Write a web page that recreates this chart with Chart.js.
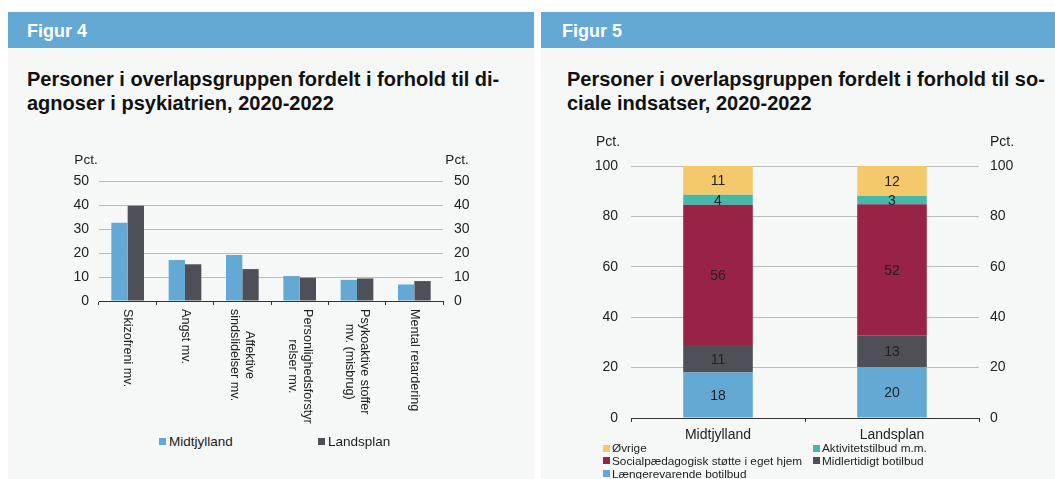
<!DOCTYPE html>
<html>
<head>
<meta charset="utf-8">
<script src="https://cdn.jsdelivr.net/npm/chart.js@4.4.0/dist/chart.umd.min.js"></script>
<style>
html,body{margin:0;padding:0;background:#fff;}
body{width:1055px;height:479px;position:relative;overflow:hidden;font-family:"Liberation Sans",Arial,Helvetica,sans-serif;color:#1a1a1a;}
.panel{position:absolute;top:12px;height:467px;background:#f6f8f8;}
.hdr{position:absolute;left:0;top:0;right:0;height:36px;background:#63a9d4;}
.hdr span{position:absolute;top:8px;color:#fff;font-weight:bold;font-size:18px;line-height:22px;white-space:nowrap;}
.title{position:absolute;top:55px;font-weight:bold;font-size:20px;line-height:24px;color:#111;white-space:nowrap;}
canvas{position:absolute;}
.leg{position:absolute;color:#222;white-space:nowrap;}
.leg .it{position:absolute;display:flex;align-items:center;}
.leg .sq{display:inline-block;width:7px;height:7px;}
</style>
</head>
<body>
<div class="panel" style="left:8px;width:526px;">
  <div class="hdr"><span style="left:19px;">Figur 4</span></div>
  <div class="title" style="left:19px;">Personer i overlapsgruppen fordelt i forhold til di-<br>agnoser i psykiatrien, 2020-2022</div>
</div>
<div class="panel" style="left:541px;width:514px;">
  <div class="hdr"><span style="left:21px;">Figur 5</span></div>
  <div class="title" style="left:26px;">Personer i overlapsgruppen fordelt i forhold til so-<br>ciale indsatser, 2020-2022</div>
</div>
<canvas id="c4" width="526" height="301" style="left:8px;top:130px;width:526px;height:301px;"></canvas>
<canvas id="c5" width="514" height="312" style="left:541px;top:130px;width:514px;height:312px;"></canvas>
<div class="leg" id="leg4" style="left:159px;top:434px;font-size:13.5px;"></div>
<div class="leg" id="leg5" style="left:603px;top:442px;font-size:11.8px;"></div>
<script>
// ---------- Figur 4 data ----------
const fig4Categories = [
  ["Skizofreni mv."],
  ["Angst mv."],
  ["Affektive", "sindslidelser mv."],
  ["Personlighedsforstyr", "relser mv."],
  ["Psykoaktive stoffer", "mv. (misbrug)"],
  ["Mental retardering"]
];
const fig4SeriesNames = ["Midtjylland", "Landsplan"];
const fig4Midtjylland = [32.6, 17.1, 19.2, 10.4, 8.8, 6.9];
const fig4Landsplan   = [39.7, 15.3, 13.3, 9.7, 9.4, 8.3];
const fig4Ticks = [0, 10, 20, 30, 40, 50];

// ---------- Figur 5 data ----------
const fig5Categories = ["Midtjylland", "Landsplan"];
const fig5SeriesNames = ["Længerevarende botilbud", "Midlertidigt botilbud", "Socialpædagogisk støtte i eget hjem", "Aktivitetstilbud m.m.", "Øvrige"];
const fig5Laengerevarende = [18.1, 20.2];
const fig5Midlertidigt    = [10.9, 12.6];
const fig5Socialpaed      = [55.6, 52.0];
const fig5Aktivitet       = [4.0, 3.3];
const fig5Oevrige         = [11.4, 11.9];
const fig5Ticks = [0, 20, 40, 60, 80, 100];

const FONT = '"Liberation Sans", Arial, Helvetica, sans-serif';
const BLUE = '#63a9d4', DARK = '#4f5057', MAROON = '#992346', TEAL = '#42b9aa', YELLOW = '#f4c96c';
const GRID = '#bdbdbd', AXIS = '#333333', TXT = '#222222';

Chart.defaults.font.family = FONT;
Chart.defaults.color = TXT;

function pctPlugin(leftDx, rightDx, dy, size) {
  return {
    id: 'pct',
    afterDraw(chart) {
      const ctx = chart.ctx, a = chart.chartArea;
      ctx.save();
      ctx.font = size + 'px ' + FONT;
      ctx.fillStyle = TXT;
      ctx.textAlign = 'center';
      ctx.textBaseline = 'middle';
      ctx.fillText('Pct.', a.left + leftDx, a.top + dy);
      ctx.fillText('Pct.', a.right + rightDx, a.top + dy);
      ctx.restore();
    }
  };
}

const rotatedLabels = {
  id: 'rotatedLabels',
  afterDraw(chart) {
    const sc = chart.scales.x, ctx = chart.ctx;
    ctx.save();
    ctx.font = '12.6px ' + FONT;
    ctx.fillStyle = TXT;
    ctx.textAlign = 'center';
    ctx.textBaseline = 'middle';
    chart.data.labels.forEach((lines, i) => {
      const x = sc.getPixelForTick(i);
      const y = sc.top + 8;
      const w = Math.max(...lines.map(l => ctx.measureText(l).width));
      ctx.save();
      ctx.translate(x, y);
      ctx.rotate(Math.PI / 2);
      lines.forEach((l, j) => ctx.fillText(l, w / 2, (j - (lines.length - 1) / 2) * 15));
      ctx.restore();
    });
    ctx.restore();
  }
};

const barValues = {
  id: 'barValues',
  afterDatasetsDraw(chart) {
    const ctx = chart.ctx;
    ctx.save();
    ctx.font = '14px ' + FONT;
    ctx.fillStyle = TXT;
    ctx.textAlign = 'center';
    ctx.textBaseline = 'middle';
    chart.data.datasets.forEach((ds, i) => {
      chart.getDatasetMeta(i).data.forEach((bar, j) => {
        const p = bar.getProps(['x', 'y', 'base'], true);
        ctx.fillText(String(Math.round(ds.data[j])), p.x, (p.y + p.base) / 2 + 1);
      });
    });
    ctx.restore();
  }
};

function tickCb(ticks) { return v => ticks.includes(v) ? String(v) : ''; }

// ---------- Figur 4 chart ----------
new Chart(document.getElementById('c4'), {
  type: 'bar',
  data: {
    labels: fig4Categories,
    datasets: [
      { label: fig4SeriesNames[0], data: fig4Midtjylland, backgroundColor: BLUE, categoryPercentage: 0.57, barPercentage: 1 },
      { label: fig4SeriesNames[1], data: fig4Landsplan, backgroundColor: DARK, categoryPercentage: 0.57, barPercentage: 1 }
    ]
  },
  options: {
    responsive: false, animation: false, devicePixelRatio: 1,
    layout: { padding: { top: 51, left: 0, right: 0, bottom: 0 } },
    plugins: { legend: { display: false }, tooltip: { enabled: false } },
    scales: {
      x: {
        ticks: { display: false },
        grid: { drawOnChartArea: false, drawTicks: true, tickLength: 4, color: AXIS, tickColor: AXIS },
        border: { color: AXIS, width: 1 },
        afterFit(s) { s.height = 130; }
      },
      y: {
        position: 'left', min: 0, max: 50,
        ticks: { stepSize: 10, padding: 10, font: { size: 14 }, color: TXT, callback: tickCb(fig4Ticks) },
        grid: { color: GRID, drawTicks: false },
        border: { display: false },
        afterFit(s) { s.width = 91; }
      },
      y2: {
        position: 'right', min: 0, max: 50,
        ticks: { stepSize: 10, padding: 11, font: { size: 14 }, color: TXT, callback: tickCb(fig4Ticks) },
        grid: { display: false, drawTicks: false },
        border: { display: false },
        afterFit(s) { s.width = 91; }
      }
    }
  },
  plugins: [rotatedLabels, pctPlugin(-13, 14, -21, 13.5)]
});

// ---------- Figur 5 chart ----------
const fig5Data = [fig5Laengerevarende, fig5Midlertidigt, fig5Socialpaed, fig5Aktivitet, fig5Oevrige];
const fig5Colors = [BLUE, DARK, MAROON, TEAL, YELLOW];
new Chart(document.getElementById('c5'), {
  type: 'bar',
  data: {
    labels: fig5Categories,
    datasets: fig5SeriesNames.map((n, i) => ({
      label: n, data: fig5Data[i], backgroundColor: fig5Colors[i],
      categoryPercentage: 0.4, barPercentage: 1
    }))
  },
  options: {
    responsive: false, animation: false, devicePixelRatio: 1,
    layout: { padding: { top: 36, left: 0, right: 0, bottom: 0 } },
    plugins: { legend: { display: false }, tooltip: { enabled: false } },
    scales: {
      x: {
        stacked: true,
        ticks: { padding: 5, font: { size: 14 }, color: TXT },
        grid: { drawOnChartArea: false, drawTicks: true, tickLength: 4, color: AXIS, tickColor: AXIS },
        border: { color: AXIS, width: 1 },
        afterFit(s) { s.height = 24; }
      },
      y: {
        stacked: true, position: 'left', min: 0, max: 100,
        ticks: { stepSize: 20, padding: 13, font: { size: 14 }, color: TXT, callback: tickCb(fig5Ticks) },
        grid: { color: GRID, drawTicks: false },
        border: { display: false },
        afterFit(s) { s.width = 90; }
      },
      y2: {
        position: 'right', min: 0, max: 100,
        ticks: { stepSize: 20, padding: 11, font: { size: 14 }, color: TXT, callback: tickCb(fig5Ticks) },
        grid: { display: false, drawTicks: false },
        border: { display: false },
        afterFit(s) { s.width = 76; }
      }
    }
  },
  plugins: [barValues, pctPlugin(-23, 23, -24, 14)]
});

// ---------- Legends (HTML) ----------
function addItem(container, name, color, left, top, gap) {
  const it = document.createElement('div');
  it.className = 'it';
  it.style.left = left + 'px';
  it.style.top = top + 'px';
  const sq = document.createElement('span');
  sq.className = 'sq';
  sq.style.background = color;
  sq.style.marginRight = gap + 'px';
  const tx = document.createElement('span');
  tx.textContent = name;
  it.appendChild(sq); it.appendChild(tx);
  container.appendChild(it);
}
const leg4 = document.getElementById('leg4');
fig4SeriesNames.forEach((n, i) => addItem(leg4, n, [BLUE, DARK][i], i * 159, 0, 3));
const leg5 = document.getElementById('leg5');
const order5 = [4, 3, 2, 1, 0];
order5.forEach((si, k) => addItem(leg5, fig5SeriesNames[si], fig5Colors[si], (k % 2) * 210, Math.floor(k / 2) * 12.8 - 1, 2));
</script>
</body>
</html>
